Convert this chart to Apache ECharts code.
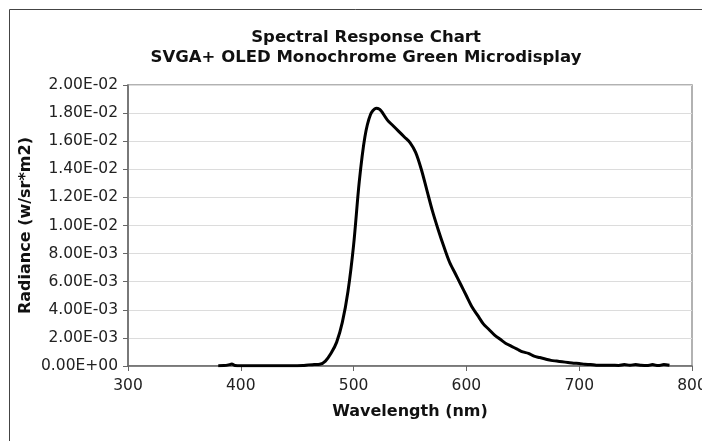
<!DOCTYPE html>
<html>
<head>
<meta charset="utf-8">
<script src="https://cdn.jsdelivr.net/npm/echarts@6/dist/echarts.min.js"></script>
<style>
html,body{margin:0;padding:0;background:#fff;overflow:hidden;}
#chart{width:702px;height:441px;}
</style>
</head>
<body>
<div id="chart"></div>
<script>
const wavelengths = [380,385,390,392,395,400,410,420,430,440,450,455,460,465,470,475,480,485,490,495,500,505,510,515,520,523,525,530,535,540,545,550,555,560,565,570,575,580,585,590,595,600,605,610,615,620,625,630,635,640,645,650,655,660,665,670,675,680,685,690,695,700,705,710,715,720,725,730,735,740,745,750,755,760,765,770,775,780];
const radiance = [0.00002,0.00003,0.0001,0.00015,0.00004,0.00002,0.00002,0.00002,0.00002,0.00002,0.00002,0.00003,0.00008,0.0001,0.00012,0.00035,0.0009,0.0017,0.0031,0.0053,0.0086,0.0131,0.0163,0.0179,0.01835,0.01828,0.0181,0.0175,0.0171,0.0167,0.0163,0.0159,0.0152,0.014,0.0125,0.011,0.0097,0.0085,0.0074,0.0066,0.0058,0.005,0.0042,0.0036,0.003,0.0026,0.0022,0.0019,0.0016,0.0014,0.0012,0.001,0.0009,0.0007,0.0006,0.0005,0.0004,0.00035,0.0003,0.00025,0.0002,0.00018,0.00012,0.0001,0.00006,0.00005,0.00006,0.00005,0.00004,0.0001,0.00006,0.0001,0.00005,0.00003,0.0001,0.00003,0.0001,0.00005];
const titleLines = ['Spectral Response Chart', 'SVGA+ OLED Monochrome Green Microdisplay'];
const xName = 'Wavelength (nm)';
const yName = 'Radiance (w/sr*m2)';

function sci(v){
  if (Math.abs(v) < 1e-12) return '0.00E+00';
  const s = v.toExponential(2);
  const m = s.match(/^(-?[\d.]+)e([+-])(\d+)$/);
  let e = m[3]; if (e.length < 2) e = '0' + e;
  return m[1] + 'E' + m[2] + e;
}

const chart = echarts.init(document.getElementById('chart'), null, {renderer:'canvas', width:702, height:441});
const font = 'DejaVu Sans';
chart.setOption({
  animation:false,
  backgroundColor:'#fff',
  graphic:[{type:'polyline', shape:{points:[[9.5,441],[9.5,9.5],[702,9.5]]}, style:{fill:null, stroke:'#444', lineWidth:1}, z:-1}],
  title:{
    text: titleLines.join('\n'),
    left: 361, top: 23, textAlign:'center',
    textStyle:{fontFamily:font, fontWeight:'bold', fontSize:16.5, color:'#111', lineHeight:20}
  },
  grid:{left:128, right:10, top:85, bottom:75, show:true, borderColor:'#999', borderWidth:1.5, backgroundColor:'transparent', outerBoundsMode:'none', containLabel:false},
  xAxis:{
    type:'value', min:300, max:800, interval:100,
    name:xName, nameLocation:'middle', nameGap:38, nameMoveOverlap:false,
    nameTextStyle:{fontFamily:font, fontWeight:'bold', fontSize:16, color:'#111'},
    axisLine:{show:true, onZero:false, lineStyle:{color:'#666', width:1.5}},
    axisTick:{show:true, length:5, lineStyle:{color:'#666'}},
    axisLabel:{fontFamily:font, fontSize:15.5, color:'#222', margin:12},
    splitLine:{show:false}
  },
  yAxis:{
    type:'value', min:0, max:0.02, interval:0.002,
    name:yName, nameLocation:'middle', nameGap:94, nameRotate:90, nameMoveOverlap:false,
    nameTextStyle:{fontFamily:font, fontWeight:'bold', fontSize:16, color:'#111'},
    axisLine:{show:true, lineStyle:{color:'#666', width:1.5}},
    axisTick:{show:true, length:5, lineStyle:{color:'#666'}},
    axisLabel:{fontFamily:font, fontSize:15.5, color:'#222', margin:10, formatter:sci},
    splitLine:{show:true, lineStyle:{color:'#dcdcdc', width:1}}
  },
  series:[{
    type:'line',
    data: wavelengths.map((w,i)=>[w, radiance[i]]),
    showSymbol:false, smooth:0.3,
    lineStyle:{color:'#000', width:3},
    clip:true
  }]
});
</script>
</body>
</html>
